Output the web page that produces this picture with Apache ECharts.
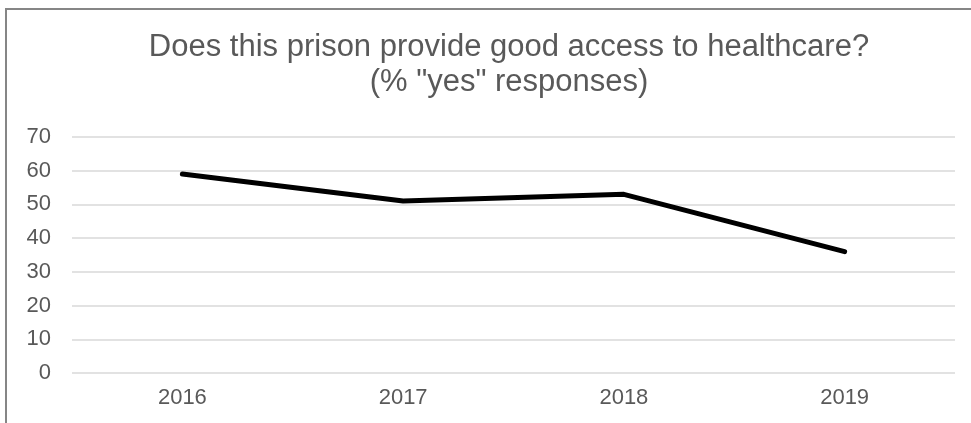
<!DOCTYPE html>
<html>
<head>
<meta charset="utf-8">
<script src="https://cdn.jsdelivr.net/npm/echarts@6/dist/echarts.min.js"></script>
<style>
  html, body { margin: 0; padding: 0; background: #fff; }
  #frame {
    position: absolute; left: 5px; top: 8px; width: 1000px; height: 500px;
    border-left: 2px solid #868686; border-top: 2px solid #868686;
  }
  #chart { position: absolute; left: 0; top: 0; width: 971px; height: 423px; }
</style>
</head>
<body>
<div id="frame"></div>
<div id="chart"></div>
<script>
  // data
  var years = ['2016', '2017', '2018', '2019'];
  var yesPct = [59, 51, 53, 36];
  var titleText = 'Does this prison provide good access to healthcare?\n(% "yes" responses)';

  var chartDom = document.getElementById('chart');
  var myChart = echarts.init(chartDom);
  var option = {
    animation: false,
    title: {
      text: titleText,
      left: 504,
      top: 25,
      textAlign: 'center',
      textStyle: {
        fontFamily: 'Liberation Sans',
        fontSize: 31,
        fontWeight: 'normal',
        color: '#595959',
        lineHeight: 35
      }
    },
    grid: {
      left: 72,
      right: 16,
      top: 137,
      bottom: 50,
      containLabel: false
    },
    xAxis: {
      type: 'category',
      data: years,
      boundaryGap: true,
      axisLine: { show: false },
      axisTick: { show: false },
      axisLabel: {
        margin: 14,
        fontFamily: 'Liberation Sans',
        fontSize: 22,
        color: '#595959'
      }
    },
    yAxis: {
      type: 'value',
      min: 0,
      max: 70,
      interval: 10,
      axisLine: { show: false },
      axisTick: { show: false },
      splitLine: { lineStyle: { color: '#d9d9d9', width: 1.5 } },
      axisLabel: {
        margin: 21,
        fontFamily: 'Liberation Sans',
        fontSize: 22,
        color: '#595959'
      }
    },
    series: [
      {
        type: 'line',
        data: yesPct,
        symbol: 'none',
        lineStyle: { color: '#000000', width: 5, cap: 'round', join: 'round' }
      }
    ]
  };
  option && myChart.setOption(option);
</script>
</body>
</html>
